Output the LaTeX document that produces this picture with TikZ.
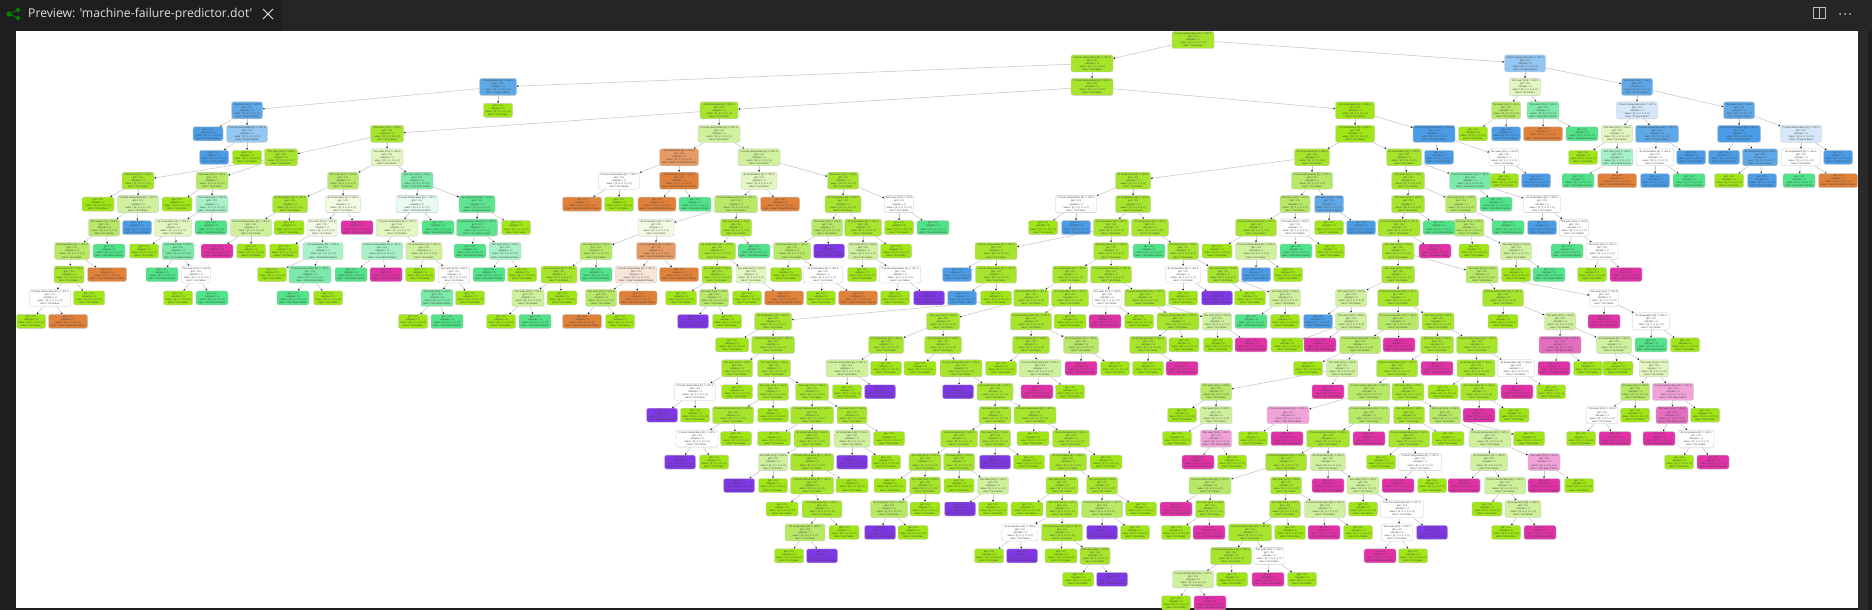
\documentclass[tikz,border=0pt]{standalone}
\usepackage{fontspec}
\setmainfont{Liberation Sans}
\newfontfamily\uifont{Open Sans}
\usetikzlibrary{arrows.meta}
\definecolor{kz}{HTML}{A0E515}\definecolor{ka}{HTML}{A6E52C}\definecolor{kb}{HTML}{B8E966}
\definecolor{kc}{HTML}{CFF09C}\definecolor{kd}{HTML}{E3F6BF}\definecolor{ke}{HTML}{F1FAE2}
\definecolor{kW}{HTML}{FFFFFF}
\definecolor{kG}{HTML}{50E388}\definecolor{kGa}{HTML}{5CE48F}\definecolor{kGb}{HTML}{7CE9A8}
\definecolor{kGc}{HTML}{A8F0C6}\definecolor{kGd}{HTML}{E8FBF0}
\definecolor{kB}{HTML}{4A9CE6}\definecolor{kBa}{HTML}{5FA8E8}\definecolor{kBb}{HTML}{93C6F0}\definecolor{kBc}{HTML}{D5E7F9}
\definecolor{kO}{HTML}{E0813A}\definecolor{kOa}{HTML}{E59B63}\definecolor{kOb}{HTML}{F8E5D8}
\definecolor{kM}{HTML}{E032A6}\definecolor{kMa}{HTML}{E56DC0}\definecolor{kMb}{HTML}{F1A3D9}
\definecolor{kP}{HTML}{8037E6}
\definecolor{chromeA}{HTML}{1E1E1E}\definecolor{chromeB}{HTML}{252526}\definecolor{chromeC}{HTML}{2A2A2A}
\newcommand\setcls[2]{\expandafter\def\csname cls#1\endcsname{#2}}
\setcls{z}{No Failure}\setcls{a}{No Failure}\setcls{b}{No Failure}\setcls{c}{No Failure}\setcls{d}{No Failure}\setcls{e}{No Failure}\setcls{W}{No Failure}
\setcls{G}{Overstrain Failure}\setcls{Ga}{Overstrain Failure}\setcls{Gb}{Overstrain Failure}\setcls{Gc}{Overstrain Failure}\setcls{Gd}{Overstrain Failure}
\setcls{B}{Power Failure}\setcls{Ba}{Power Failure}\setcls{Bb}{Power Failure}\setcls{Bc}{Power Failure}
\setcls{O}{Heat Dissipation Failure}\setcls{Oa}{Heat Dissipation Failure}\setcls{Ob}{Heat Dissipation Failure}
\setcls{M}{Tool Wear Failure}\setcls{Ma}{Tool Wear Failure}\setcls{Mb}{Tool Wear Failure}
\setcls{P}{Random Failures}
\newcommand\FeatLine[1]{\ifnum#1>40 Process temperature [K] <= 307.6\else\ifnum#1>34 Air temperature [K] <= 301.6\else Tool wear [min] <= 202.5\fi\fi}
\tikzset{
  x=1pt,y=-1pt,
  dbox/.style={draw=gray!45,line width=.35pt,rounded corners=2.2pt,inner sep=0pt,align=center,
    text=black!75,font=\fontsize{2.45}{3.05}\selectfont},
  ghost/.style={line width=.35pt,inner sep=0pt},
  link/.style={draw=gray!45,line width=.55pt,-{Stealth[length=2pt,width=1.7pt,black]}},
  uitext/.style={inner sep=0pt,text=white!88!black,font=\uifont\fontsize{12.2}{14}\selectfont}
}
\newif\ifnodespass
\newcommand\BoxIn[4]{\ifnodespass\node[dbox,fill=k#4,minimum width=#3pt,minimum height=17pt] (n#1x#2) at (#1,{40+23.45*#2})
  {\FeatLine{#3}\\gini = 0.5\\samples = 4\\value = [0, 3, 0, 0, 1, 0]\\class = \csname cls#4\endcsname};\else
  \node[ghost,minimum width=#3pt,minimum height=17pt] (n#1x#2) at (#1,{40+23.45*#2}) {};\fi}
\newcommand\Lnk[3]{\ifnodespass\else\edef\pn{n#3x\the\numexpr#2-1\relax}\draw[link] (\pn) -- (n#1x#2);\fi}
\newcommand\Nin[5]{\BoxIn{#1}{#2}{#3}{#4}\Lnk{#1}{#2}{#5}}
\newcommand\Nlf[5]{\ifnodespass\node[dbox,fill=k#4,minimum width=#3pt,minimum height=14pt] (n#1x#2) at (#1,{40+23.45*#2})
  {gini = 0.0\\samples = 5\\value = [0, 5, 0, 0, 0, 0]\\class = \csname cls#4\endcsname};\else
  \node[ghost,minimum width=#3pt,minimum height=14pt] (n#1x#2) at (#1,{40+23.45*#2}) {};\fi\Lnk{#1}{#2}{#5}}
\newcommand\TreeList{%
\BoxIn{1193}{0}{42}{a}
\Nin{1092}{1}{42}{a}{1193}
\Nin{1525}{1}{41}{Bb}{1193}
\Nin{498}{2}{37}{Ba}{1092}
\Nin{247}{3}{31}{Ba}{498}
\Nlf{498}{3}{29}{z}{498}
\Nlf{208}{4}{30}{B}{247}
\Nin{247}{4}{41}{Bb}{247}
\Nlf{214}{5}{29}{B}{247}
\Nlf{247}{5}{29}{z}{247}
\Nin{1092}{2}{42}{a}{1092}
\Nin{719}{3}{38}{a}{1092}
\Nin{1355}{3}{39}{z}{1092}
\Nin{387}{4}{33}{a}{719}
\Nin{281}{5}{33}{a}{387}
\Nin{387}{5}{32}{d}{387}
\Nin{138}{6}{32}{a}{281}
\Nin{212}{6}{32}{b}{281}
\Nlf{98}{7}{32}{z}{138}
\Nin{138}{7}{41}{c}{138}
\Nin{104}{8}{31}{b}{138}
\Nlf{137}{8}{29}{B}{138}
\Nin{72}{9}{35}{b}{104}
\Nlf{109}{9}{32}{G}{104}
\Nin{69}{10}{30}{a}{72}
\Nlf{107}{10}{39}{O}{72}
\Nin{50}{11}{41}{W}{69}
\Nlf{89}{11}{31}{z}{69}
\Nlf{31}{12}{29}{z}{50}
\Nlf{68}{12}{39}{O}{50}
\Nlf{177}{7}{30}{z}{212}
\Nin{212}{7}{32}{Gc}{212}
\Nin{173}{8}{37}{d}{212}
\Nlf{211}{8}{32}{G}{212}
\Nlf{144}{9}{29}{z}{173}
\Nin{178}{9}{32}{Gb}{173}
\Nlf{162}{10}{32}{G}{178}
\Nin{196}{10}{29}{W}{178}
\Nlf{178}{11}{29}{z}{196}
\Nlf{212}{11}{32}{G}{196}
\Nin{343}{6}{31}{b}{387}
\Nin{417}{6}{32}{Gb}{387}
\Nin{290}{7}{35}{a}{343}
\Nin{343}{7}{35}{e}{343}
\Nin{251}{8}{41}{c}{290}
\Nlf{289}{8}{30}{z}{290}
\Nlf{217}{9}{32}{M}{251}
\Nlf{251}{9}{29}{z}{251}
\Nin{322}{8}{30}{e}{343}
\Nlf{357}{8}{32}{M}{343}
\Nlf{284}{9}{29}{z}{322}
\Nin{323}{9}{40}{Gc}{322}
\Nlf{272}{10}{29}{z}{323}
\Nin{310}{10}{42}{Gb}{323}
\Nlf{293}{11}{32}{G}{310}
\Nlf{328}{11}{29}{z}{310}
\Nin{417}{7}{42}{Gd}{417}
\Nin{477}{7}{36}{Ga}{417}
\Nin{397}{8}{42}{d}{417}
\Nlf{438}{8}{32}{G}{417}
\Nin{382}{9}{41}{Gc}{397}
\Nin{424}{9}{36}{c}{397}
\Nlf{351}{10}{32}{G}{382}
\Nlf{386}{10}{32}{M}{382}
\Nlf{420}{10}{29}{z}{424}
\Nin{454}{10}{31}{W}{424}
\Nin{437}{11}{32}{Gb}{454}
\Nlf{470}{11}{29}{z}{454}
\Nlf{413}{12}{29}{z}{437}
\Nlf{447}{12}{32}{G}{437}
\Nin{477}{8}{41}{Ga}{477}
\Nlf{516}{8}{29}{z}{477}
\Nlf{470}{9}{32}{G}{477}
\Nin{505}{9}{32}{Gc}{477}
\Nlf{489}{10}{32}{G}{505}
\Nlf{522}{10}{29}{z}{505}
\Nin{719}{4}{42}{c}{719}
\Nin{679}{5}{39}{Oa}{719}
\Nin{759}{5}{42}{c}{719}
\Nin{619}{6}{41}{W}{679}
\Nin{679}{6}{39}{O}{679}
\Nlf{582}{7}{39}{O}{619}
\Nlf{619}{7}{29}{z}{619}
\Nlf{657}{7}{38}{O}{679}
\Nlf{695}{7}{32}{G}{679}
\Nin{759}{6}{36}{d}{759}
\Nin{843}{6}{31}{a}{759}
\Nin{736}{7}{43}{b}{759}
\Nlf{780}{7}{39}{O}{759}
\Nin{656}{8}{36}{e}{736}
\Nin{736}{8}{31}{a}{736}
\Nin{596}{9}{32}{b}{656}
\Nin{656}{9}{39}{Oa}{656}
\Nin{559}{10}{36}{a}{596}
\Nlf{596}{10}{32}{G}{596}
\Nin{528}{11}{32}{c}{559}
\Nlf{562}{11}{30}{z}{559}
\Nlf{501}{12}{29}{z}{528}
\Nlf{535}{12}{32}{G}{528}
\Nin{636}{10}{41}{Ob}{656}
\Nlf{679}{10}{39}{O}{656}
\Nin{601}{11}{31}{b}{636}
\Nlf{638}{11}{38}{O}{636}
\Nlf{582}{12}{39}{O}{601}
\Nlf{620}{12}{29}{z}{601}
\Nin{717}{9}{37}{a}{736}
\Nlf{754}{9}{32}{G}{736}
\Nin{717}{10}{30}{a}{717}
\Nin{751}{10}{30}{d}{717}
\Nlf{681}{11}{31}{z}{717}
\Nin{714}{11}{29}{b}{717}
\Nlf{693}{12}{31}{P}{714}
\Nlf{727}{12}{29}{z}{714}
\Nlf{747}{11}{29}{z}{751}
\Nlf{784}{11}{39}{O}{751}
\Nin{843}{7}{36}{a}{843}
\Nin{899}{7}{29}{W}{843}
\Nlf{899}{8}{29}{z}{899}
\Nlf{933}{8}{32}{G}{899}
\Nin{827}{8}{31}{b}{843}
\Nin{863}{8}{37}{a}{843}
\Nin{792}{9}{37}{b}{827}
\Nlf{829}{9}{31}{P}{827}
\Nlf{786}{10}{31}{z}{792}
\Nin{823}{10}{39}{W}{792}
\Nlf{821}{11}{29}{z}{823}
\Nlf{858}{11}{39}{O}{823}
\Nin{863}{9}{30}{c}{863}
\Nlf{896}{9}{31}{z}{863}
\Nlf{862}{10}{29}{z}{863}
\Nin{900}{10}{41}{W}{863}
\Nlf{895}{11}{29}{z}{900}
\Nlf{929}{11}{31}{P}{900}
\Nin{1355}{4}{39}{z}{1355}
\Nin{1434}{4}{42}{B}{1355}
\Nlf{1439}{5}{29}{B}{1434}
\Nin{1504}{5}{29}{W}{1434}
\Nlf{1504}{6}{29}{z}{1504}
\Nlf{1536}{6}{29}{B}{1504}
\Nin{1312}{5}{35}{a}{1355}
\Nin{1404}{5}{35}{a}{1355}
\Nin{1133}{6}{35}{a}{1312}
\Nin{1312}{6}{41}{b}{1312}
\Nin{1076}{7}{41}{W}{1133}
\Nin{1133}{7}{35}{a}{1133}
\Nlf{1043}{8}{29}{z}{1076}
\Nlf{1076}{8}{29}{B}{1076}
\Nin{1111}{8}{35}{a}{1133}
\Nin{1150}{8}{37}{a}{1133}
\Nin{996}{9}{42}{a}{1111}
\Nin{1111}{9}{35}{a}{1111}
\Nlf{957}{10}{29}{B}{996}
\Nin{996}{10}{41}{a}{996}
\Nlf{962}{11}{29}{B}{996}
\Nlf{996}{11}{31}{z}{996}
\Nlf{1149}{9}{32}{G}{1150}
\Nin{1183}{9}{31}{a}{1150}
\Nin{1183}{10}{35}{W}{1183}
\Nin{1223}{10}{31}{a}{1183}
\Nlf{1183}{11}{29}{z}{1183}
\Nlf{1217}{11}{31}{P}{1183}
\Nlf{1250}{11}{31}{z}{1223}
\Nin{1285}{11}{31}{c}{1223}
\Nlf{1251}{12}{32}{G}{1285}
\Nlf{1285}{12}{29}{z}{1285}
\Nin{1070}{10}{35}{a}{1111}
\Nin{1111}{10}{41}{a}{1111}
\Nin{1031}{11}{35}{a}{1070}
\Nin{1070}{11}{37}{a}{1070}
\Nin{1107}{11}{29}{W}{1111}
\Nin{1145}{11}{41}{a}{1111}
\Nlf{1105}{12}{32}{M}{1107}
\Nlf{1139}{12}{29}{z}{1107}
\Nin{1178}{12}{42}{a}{1145}
\Nin{1217}{12}{29}{c}{1145}
\Nin{1031}{12}{41}{a}{1070}
\Nlf{1070}{12}{32}{z}{1070}
\Nin{1031}{13}{37}{a}{1031}
\Nin{1081}{13}{35}{b}{1031}
\Nlf{1001}{14}{31}{z}{1031}
\Nin{1040}{14}{42}{c}{1031}
\Nlf{1037}{15}{32}{M}{1040}
\Nlf{1070}{15}{29}{z}{1040}
\Nlf{1081}{14}{32}{M}{1081}
\Nlf{1115}{14}{29}{z}{1081}
\Nin{1148}{13}{37}{a}{1178}
\Nlf{1184}{13}{30}{z}{1178}
\Nlf{1148}{14}{31}{z}{1148}
\Nlf{1182}{14}{32}{M}{1148}
\Nlf{1218}{13}{29}{z}{1217}
\Nlf{1251}{13}{32}{M}{1217}
\Nin{773}{12}{37}{a}{1031}
\Nin{943}{12}{33}{a}{1031}
\Nin{886}{13}{35}{a}{943}
\Nin{943}{13}{37}{a}{943}
\Nin{847}{14}{42}{c}{886}
\Nlf{886}{14}{31}{z}{886}
\Nlf{847}{15}{29}{z}{847}
\Nlf{880}{15}{31}{P}{847}
\Nlf{920}{14}{32}{z}{943}
\Nin{961}{14}{42}{a}{943}
\Nlf{958}{15}{31}{P}{961}
\Nin{995}{15}{36}{a}{961}
\Nin{995}{16}{32}{a}{995}
\Nin{1035}{16}{42}{a}{995}
\Nin{959}{17}{37}{a}{995}
\Nin{995}{17}{31}{a}{995}
\Nlf{995}{18}{31}{P}{995}
\Nlf{1029}{18}{31}{z}{995}
\Nin{925}{18}{32}{a}{959}
\Nin{959}{18}{31}{a}{959}
\Nlf{959}{19}{30}{z}{959}
\Nin{993}{19}{31}{c}{959}
\Nlf{960}{20}{31}{P}{993}
\Nlf{993}{20}{29}{z}{993}
\Nlf{890}{19}{32}{z}{925}
\Nin{925}{19}{31}{a}{925}
\Nin{889}{20}{37}{b}{925}
\Nlf{925}{20}{30}{z}{925}
\Nlf{880}{21}{31}{P}{889}
\Nlf{913}{21}{30}{z}{889}
\Nlf{1033}{17}{32}{z}{1035}
\Nin{1071}{17}{37}{a}{1035}
\Nin{1068}{18}{37}{a}{1071}
\Nlf{1106}{18}{32}{z}{1071}
\Nin{1062}{19}{32}{a}{1068}
\Nin{1102}{19}{31}{a}{1068}
\Nlf{1027}{20}{32}{z}{1062}
\Nin{1062}{20}{32}{a}{1062}
\Nin{1020}{21}{36}{W}{1062}
\Nin{1062}{21}{41}{a}{1062}
\Nlf{989}{22}{29}{z}{1020}
\Nlf{1022}{22}{31}{P}{1020}
\Nlf{1061}{22}{32}{z}{1062}
\Nin{1095}{22}{30}{a}{1062}
\Nlf{1078}{23}{31}{z}{1095}
\Nlf{1112}{23}{31}{P}{1095}
\Nin{1102}{20}{41}{b}{1102}
\Nlf{1141}{20}{31}{z}{1102}
\Nlf{1102}{21}{31}{P}{1102}
\Nlf{1135}{21}{29}{z}{1102}
\Nlf{732}{13}{33}{z}{773}
\Nin{773}{13}{43}{a}{773}
\Nin{737}{14}{31}{a}{773}
\Nin{774}{14}{33}{a}{773}
\Nin{695}{15}{41}{W}{737}
\Nlf{737}{15}{31}{z}{737}
\Nlf{662}{16}{31}{P}{695}
\Nlf{695}{16}{29}{z}{695}
\Nin{773}{15}{31}{a}{774}
\Nin{812}{15}{33}{a}{774}
\Nin{733}{16}{41}{a}{773}
\Nlf{773}{16}{31}{z}{773}
\Nin{697}{17}{42}{W}{733}
\Nlf{736}{17}{31}{z}{733}
\Nlf{680}{18}{31}{P}{697}
\Nlf{714}{18}{29}{z}{697}
\Nin{812}{16}{43}{a}{812}
\Nin{852}{16}{30}{a}{812}
\Nlf{774}{17}{33}{z}{812}
\Nin{812}{17}{36}{a}{812}
\Nin{773}{18}{29}{c}{812}
\Nin{812}{18}{43}{a}{812}
\Nlf{739}{19}{31}{P}{773}
\Nlf{773}{19}{29}{z}{773}
\Nin{812}{19}{43}{a}{812}
\Nlf{852}{19}{32}{z}{812}
\Nlf{782}{20}{32}{z}{812}
\Nin{822}{20}{40}{a}{812}
\Nin{805}{21}{40}{b}{822}
\Nlf{844}{21}{30}{z}{822}
\Nlf{789}{22}{29}{z}{805}
\Nlf{822}{22}{31}{P}{805}
\Nin{852}{17}{36}{c}{852}
\Nlf{889}{17}{31}{z}{852}
\Nlf{852}{18}{31}{P}{852}
\Nlf{886}{18}{29}{z}{852}
\Nin{1295}{7}{30}{b}{1312}
\Nin{1329}{7}{29}{Ba}{1312}
\Nin{1256}{8}{41}{a}{1295}
\Nin{1295}{8}{30}{W}{1295}
\Nlf{1296}{9}{32}{G}{1295}
\Nlf{1330}{9}{29}{z}{1295}
\Nlf{1217}{9}{30}{z}{1256}
\Nin{1256}{9}{41}{c}{1256}
\Nlf{1256}{10}{29}{B}{1256}
\Nlf{1288}{10}{29}{z}{1256}
\Nlf{1329}{8}{29}{z}{1329}
\Nlf{1361}{8}{29}{B}{1329}
\Nin{1408}{6}{33}{a}{1404}
\Nin{1470}{6}{41}{Gb}{1404}
\Nlf{1496}{7}{32}{G}{1470}
\Nin{1542}{7}{37}{W}{1470}
\Nlf{1542}{8}{29}{B}{1542}
\Nin{1574}{8}{29}{W}{1542}
\Nlf{1567}{9}{32}{G}{1574}
\Nin{1602}{9}{32}{W}{1574}
\Nlf{1592}{10}{29}{z}{1602}
\Nlf{1626}{10}{32}{M}{1602}
\Nin{1408}{7}{33}{a}{1408}
\Nin{1461}{7}{31}{b}{1408}
\Nin{1469}{8}{30}{b}{1461}
\Nlf{1508}{8}{32}{G}{1461}
\Nlf{1474}{9}{30}{z}{1469}
\Nin{1516}{9}{31}{c}{1469}
\Nlf{1516}{10}{29}{z}{1516}
\Nlf{1549}{10}{32}{G}{1516}
\Nin{1399}{8}{42}{a}{1408}
\Nlf{1439}{8}{32}{G}{1408}
\Nin{1398}{9}{32}{a}{1399}
\Nlf{1435}{9}{32}{M}{1399}
\Nin{1398}{10}{33}{a}{1398}
\Nin{1482}{10}{32}{b}{1398}
\Nin{1351}{11}{31}{c}{1398}
\Nin{1398}{11}{41}{a}{1398}
\Nlf{1318}{12}{29}{B}{1351}
\Nin{1351}{12}{31}{c}{1351}
\Nlf{1287}{13}{32}{z}{1351}
\Nlf{1320}{13}{32}{M}{1351}
\Nin{1398}{12}{41}{b}{1398}
\Nin{1438}{12}{32}{a}{1398}
\Nin{1360}{13}{41}{b}{1398}
\Nlf{1399}{13}{32}{M}{1398}
\Nlf{1308}{14}{29}{z}{1360}
\Nin{1342}{14}{31}{c}{1360}
\Nin{1216}{15}{31}{b}{1342}
\Nlf{1328}{15}{32}{M}{1342}
\Nlf{1182}{16}{29}{z}{1216}
\Nin{1216}{16}{32}{c}{1216}
\Nlf{1177}{17}{29}{z}{1216}
\Nin{1216}{17}{31}{Mb}{1216}
\Nlf{1198}{18}{32}{M}{1216}
\Nlf{1232}{18}{29}{z}{1216}
\Nin{1437}{13}{33}{a}{1438}
\Nin{1477}{13}{41}{a}{1438}
\Nin{1397}{14}{41}{a}{1437}
\Nlf{1437}{14}{32}{M}{1437}
\Nin{1369}{15}{42}{b}{1397}
\Nin{1408}{15}{32}{a}{1397}
\Nin{1288}{16}{42}{Mb}{1369}
\Nin{1369}{16}{41}{b}{1369}
\Nlf{1253}{17}{29}{z}{1288}
\Nlf{1287}{17}{32}{M}{1288}
\Nin{1328}{17}{43}{a}{1369}
\Nlf{1369}{17}{32}{M}{1369}
\Nin{1286}{18}{41}{a}{1328}
\Nin{1328}{18}{35}{c}{1328}
\Nin{1210}{19}{42}{b}{1286}
\Nin{1286}{19}{31}{a}{1286}
\Nlf{1176}{20}{32}{M}{1210}
\Nin{1210}{20}{29}{a}{1210}
\Nlf{1176}{21}{29}{z}{1210}
\Nlf{1209}{21}{32}{M}{1210}
\Nin{1285}{20}{31}{a}{1286}
\Nin{1325}{20}{41}{c}{1286}
\Nlf{1324}{21}{32}{M}{1325}
\Nlf{1358}{21}{29}{z}{1325}
\Nin{1250}{21}{43}{a}{1285}
\Nlf{1290}{21}{31}{z}{1285}
\Nin{1231}{22}{41}{a}{1250}
\Nin{1269}{22}{30}{W}{1250}
\Nin{1193}{23}{41}{c}{1231}
\Nlf{1232}{23}{31}{z}{1231}
\Nlf{1176}{24}{29}{z}{1193}
\Nlf{1210}{24}{32}{M}{1193}
\Nlf{1268}{23}{32}{M}{1269}
\Nlf{1302}{23}{29}{z}{1269}
\Nlf{1328}{19}{32}{M}{1328}
\Nin{1363}{19}{32}{c}{1328}
\Nlf{1363}{20}{29}{z}{1363}
\Nin{1402}{20}{43}{W}{1363}
\Nin{1397}{21}{31}{W}{1402}
\Nlf{1432}{21}{31}{P}{1402}
\Nlf{1380}{22}{32}{M}{1397}
\Nlf{1413}{22}{29}{z}{1397}
\Nin{1409}{16}{31}{a}{1408}
\Nin{1445}{16}{31}{b}{1408}
\Nin{1409}{17}{41}{a}{1409}
\Nlf{1448}{17}{32}{z}{1409}
\Nlf{1381}{18}{29}{z}{1409}
\Nin{1420}{18}{43}{W}{1409}
\Nlf{1398}{19}{32}{M}{1420}
\Nlf{1432}{19}{29}{z}{1420}
\Nin{1490}{17}{42}{c}{1445}
\Nlf{1529}{17}{31}{z}{1445}
\Nin{1489}{18}{37}{c}{1490}
\Nin{1544}{18}{32}{Mb}{1490}
\Nlf{1464}{19}{32}{M}{1489}
\Nin{1505}{19}{41}{c}{1489}
\Nlf{1487}{20}{30}{z}{1505}
\Nin{1523}{20}{36}{c}{1505}
\Nlf{1506}{21}{29}{z}{1523}
\Nlf{1540}{21}{32}{M}{1523}
\Nlf{1544}{19}{32}{M}{1544}
\Nlf{1579}{19}{29}{z}{1544}
\Nin{1476}{14}{38}{a}{1477}
\Nin{1516}{14}{37}{W}{1477}
\Nlf{1517}{15}{32}{M}{1516}
\Nlf{1551}{15}{29}{z}{1516}
\Nlf{1443}{15}{30}{z}{1476}
\Nin{1479}{15}{37}{a}{1476}
\Nlf{1479}{16}{32}{M}{1479}
\Nlf{1514}{16}{30}{z}{1479}
\Nin{1503}{11}{41}{a}{1482}
\Nin{1604}{11}{29}{W}{1482}
\Nlf{1503}{12}{30}{z}{1503}
\Nin{1560}{12}{31}{c}{1503}
\Nin{1560}{13}{42}{Ma}{1560}
\Nin{1614}{13}{35}{c}{1560}
\Nlf{1554}{14}{32}{M}{1560}
\Nlf{1588}{14}{29}{z}{1560}
\Nlf{1618}{14}{30}{z}{1614}
\Nin{1654}{14}{29}{d}{1614}
\Nin{1635}{15}{29}{b}{1654}
\Nin{1673}{15}{41}{Mb}{1654}
\Nin{1602}{16}{31}{W}{1635}
\Nlf{1635}{16}{29}{z}{1635}
\Nlf{1581}{17}{29}{z}{1602}
\Nlf{1615}{17}{32}{M}{1602}
\Nin{1672}{16}{32}{Ma}{1673}
\Nlf{1705}{16}{29}{z}{1673}
\Nlf{1659}{17}{32}{M}{1672}
\Nin{1696}{17}{36}{W}{1672}
\Nlf{1679}{18}{29}{z}{1696}
\Nlf{1713}{18}{32}{M}{1696}
\Nlf{1604}{12}{32}{M}{1604}
\Nin{1651}{12}{37}{W}{1604}
\Nlf{1651}{13}{32}{G}{1651}
\Nlf{1685}{13}{29}{z}{1651}
\Nin{1525}{2}{31}{d}{1525}
\Nin{1637}{2}{31}{Ba}{1525}
\Nin{1506}{3}{29}{b}{1525}
\Nin{1543}{3}{32}{Gb}{1525}
\Nlf{1473}{4}{29}{z}{1506}
\Nlf{1506}{4}{29}{B}{1506}
\Nlf{1543}{4}{39}{O}{1543}
\Nlf{1582}{4}{32}{G}{1543}
\Nin{1637}{3}{41}{Bc}{1637}
\Nin{1739}{3}{31}{Ba}{1637}
\Nin{1617}{4}{31}{d}{1637}
\Nin{1657}{4}{43}{Ba}{1637}
\Nlf{1583}{5}{29}{z}{1617}
\Nin{1617}{5}{32}{Gc}{1617}
\Nlf{1578}{6}{32}{G}{1617}
\Nlf{1617}{6}{39}{O}{1617}
\Nin{1655}{5}{37}{W}{1657}
\Nlf{1691}{5}{29}{B}{1657}
\Nlf{1655}{6}{29}{B}{1655}
\Nlf{1689}{6}{32}{G}{1655}
\Nin{1739}{4}{43}{B}{1739}
\Nin{1801}{4}{41}{Bc}{1739}
\Nlf{1724}{5}{31}{B}{1739}
\Nin{1760}{5}{35}{Ba}{1739}
\Nlf{1729}{6}{29}{z}{1760}
\Nlf{1762}{6}{29}{B}{1760}
\Nin{1801}{5}{39}{W}{1801}
\Nlf{1838}{5}{29}{B}{1801}
\Nlf{1799}{6}{32}{G}{1801}
\Nlf{1838}{6}{39}{O}{1801}
}
\begin{document}
\begin{tikzpicture}
\useasboundingbox (0,0) rectangle (1872,610);
\fill[chromeA] (0,0) rectangle (1872,610);
\fill[chromeB] (282,0) rectangle (1872,31);
\fill[chromeC] (1858,31) rectangle (1868,610);
\fill[white] (16,31) rectangle (1858,608);
\draw[green!50!black,line width=.8pt] (18,10) -- (9,14) -- (18,18);
\fill[green!50!black] (9,14) circle (2.6) (18,10) circle (2.1) (18,18) circle (2.1);
\node[uitext,anchor=west] (title) at (28,14) {Preview: 'machine-failure-predictor.dot'};
\draw[white!90!black,line width=1pt] (263,9) -- (273,19) (273,9) -- (263,19);
\draw[white!75!black,line width=1pt] (1813.5,7.5) rectangle (1825.5,19) (1819.5,7.5) -- (1819.5,19);
\fill[white!75!black] (1840,14) circle (1) (1845,14) circle (1) (1850,14) circle (1);
\nodespassfalse
\TreeList
\nodespasstrue
\TreeList
\end{tikzpicture}
\end{document}
